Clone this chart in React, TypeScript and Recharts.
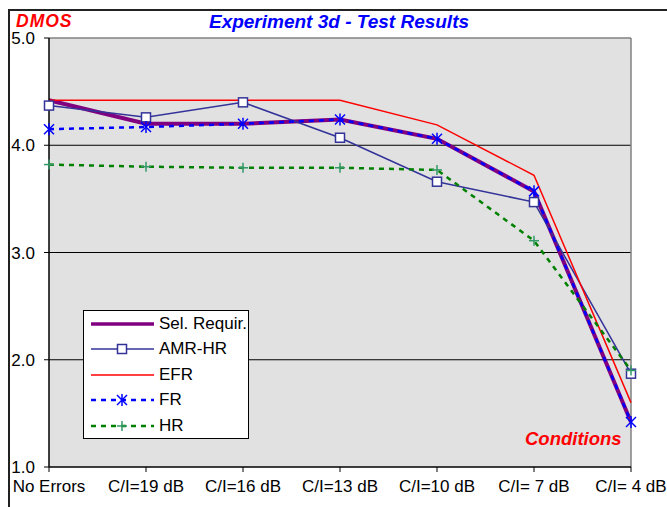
import { LineChart, Line, CartesianGrid, XAxis, YAxis, ReferenceLine } from 'recharts';

const categories = ['No Errors', 'C/I=19 dB', 'C/I=16 dB', 'C/I=13 dB', 'C/I=10 dB', 'C/I= 7 dB', 'C/I= 4 dB'];
const selRequir = [4.42, 4.2, 4.2, 4.24, 4.06, 3.57, 1.42];
const amrHr = [4.37, 4.26, 4.4, 4.07, 3.66, 3.47, 1.87];
const efr = [4.42, 4.42, 4.42, 4.42, 4.19, 3.72, 1.6];
const fr = [4.15, 4.17, 4.2, 4.24, 4.06, 3.57, 1.42];
const hr = [3.82, 3.8, 3.79, 3.79, 3.77, 3.11, 1.9];
const yTicks = [1, 2, 3, 4, 5];

const data = categories.map((name, i) => ({
    name,
    sel: selRequir[i],
    amr: amrHr[i],
    efr: efr[i],
    fr: fr[i],
    hr: hr[i],
}));

const FONT = 'Arial, "Liberation Sans", sans-serif';

const Square = (props: any) => {
    const { cx, cy, index } = props;
    return <rect key={'sq' + index} x={cx - 4.5} y={cy - 4.5} width={9} height={9} fill="#fff" stroke="#333399" strokeWidth={1.5} />;
};

const Star = (props: any) => {
    const { cx, cy, index } = props;
    return (
        <g key={'st' + index} stroke="#0000ff" strokeWidth={1.5}>
            <line x1={cx - 5} y1={cy - 5} x2={cx + 5} y2={cy + 5} />
            <line x1={cx - 5} y1={cy + 5} x2={cx + 5} y2={cy - 5} />
            <line x1={cx} y1={cy - 6} x2={cx} y2={cy + 6} />
        </g>
    );
};

const Plus = (props: any) => {
    const { cx, cy, index } = props;
    return (
        <g key={'pl' + index} stroke="#339966" strokeWidth={1.5}>
            <line x1={cx - 5} y1={cy} x2={cx + 5} y2={cy} />
            <line x1={cx} y1={cy - 5} x2={cx} y2={cy + 5} />
        </g>
    );
};

const legendItems = [
    { label: 'Sel. Requir.', color: '#800080', width: 3.5, dash: undefined, marker: null },
    { label: 'AMR-HR', color: '#333399', width: 1.5, dash: undefined, marker: Square },
    { label: 'EFR', color: '#ff0000', width: 1.5, dash: undefined, marker: null },
    { label: 'FR', color: '#0000ff', width: 2.5, dash: '5 5', marker: Star },
    { label: 'HR', color: '#008000', width: 2.5, dash: '5 5', marker: Plus },
];

const ChartLegend = () => (
    <div style={{ position: 'absolute', left: 83, top: 310, background: '#fff', border: '1px solid #000', width: 166, height: 129, boxSizing: 'border-box', padding: '0 0 0 5px' }}>
        {legendItems.map((it, i) => {
            const M = it.marker;
            return (
                <div key={i} style={{ display: 'flex', alignItems: 'center', height: 25.5 }}>
                    <svg width={68} height={20} style={{ flex: 'none' }}>
                        <line x1={2} y1={10} x2={65} y2={10} stroke={it.color} strokeWidth={it.width} strokeDasharray={it.dash} />
                        {M ? <M cx={33} cy={10} index={i} /> : null}
                    </svg>
                    <span style={{ fontFamily: FONT, fontSize: 17, color: '#000', marginLeft: 2, lineHeight: '20px' }}>{it.label}</span>
                </div>
            );
        })}
    </div>
);

const ExperimentChart = () => {
    return (
        <div style={{ position: 'absolute', left: 0, top: 0, width: 667, height: 507, background: '#fff', overflow: 'hidden' }}>
            <div style={{ position: 'absolute', left: 8, top: 9, width: 700, height: 600, borderTop: '2px solid #222', borderLeft: '2px solid #222' }} />
            <LineChart width={667} height={507} data={data} margin={{ top: 38, right: 36, bottom: 10, left: 9 }} style={{ position: 'absolute', left: 0, top: 0 }}>
                <CartesianGrid vertical={false} horizontalValues={[2, 3, 4]} stroke="#000" strokeWidth={1} fill="#e1e1e1" />
                <ReferenceLine y={5} stroke="#808080" strokeWidth={1.5} />
                <ReferenceLine x="C/I= 4 dB" stroke="#808080" strokeWidth={1.5} />
                <XAxis
                    dataKey="name"
                    height={30}
                    axisLine={{ stroke: '#000', strokeWidth: 1.5 }}
                    tickLine={{ stroke: '#000' }}
                    tickSize={5}
                    tickMargin={8}
                    interval={0}
                    tick={{ fill: '#000', fontSize: 17, fontFamily: FONT }}
                />
                <YAxis
                    width={40}
                    domain={[1, 5]}
                    ticks={yTicks}
                    tickFormatter={(v: number) => v.toFixed(1)}
                    axisLine={{ stroke: '#000', strokeWidth: 1.5 }}
                    tickLine={{ stroke: '#000' }}
                    tickSize={5}
                    tickMargin={9}
                    tick={{ fill: '#000', fontSize: 17, fontFamily: FONT }}
                />
                <Line type="linear" dataKey="sel" stroke="#800080" strokeWidth={4} dot={false} isAnimationActive={false} />
                <Line type="linear" dataKey="amr" stroke="#333399" strokeWidth={1.5} dot={Square} isAnimationActive={false} />
                <Line type="linear" dataKey="efr" stroke="#ff0000" strokeWidth={1.5} dot={false} isAnimationActive={false} />
                <Line type="linear" dataKey="fr" stroke="#0000ff" strokeWidth={2.5} strokeDasharray="5 5" dot={Star} isAnimationActive={false} />
                <Line type="linear" dataKey="hr" stroke="#008000" strokeWidth={2.5} strokeDasharray="5 5" dot={Plus} isAnimationActive={false} />
            </LineChart>
            <ChartLegend />
            <div style={{ position: 'absolute', left: 16, top: 11, fontFamily: FONT, fontSize: 17.5, fontWeight: 'bold', fontStyle: 'italic', color: '#ff0000', letterSpacing: 1 }}>DMOS</div>
            <div style={{ position: 'absolute', left: 0, width: 678, top: 11, textAlign: 'center', fontFamily: FONT, fontSize: 19, fontWeight: 'bold', fontStyle: 'italic', color: '#0000ff' }}>Experiment 3d - Test Results</div>
            <div style={{ position: 'absolute', left: 525, top: 428, fontFamily: FONT, fontSize: 18.5, fontWeight: 'bold', fontStyle: 'italic', color: '#ff0000' }}>Conditions</div>
        </div>
    );
};

export default function App() {
    return <ExperimentChart />;
}
